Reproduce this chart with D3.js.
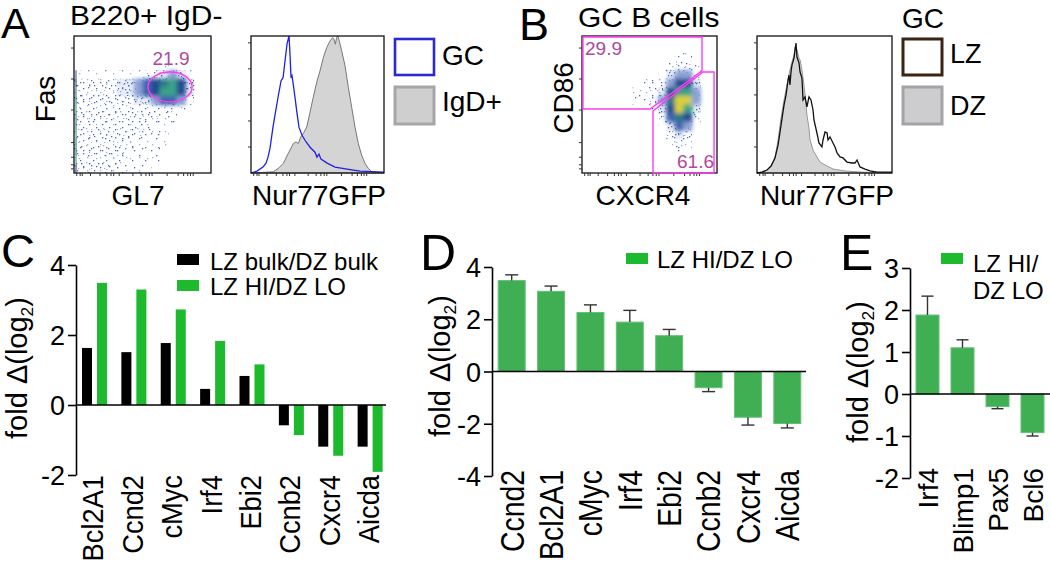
<!DOCTYPE html>
<html><head><meta charset="utf-8">
<script src="https://cdn.jsdelivr.net/npm/d3@7"></script>
<style>
body{margin:0;background:#fff;}
svg{display:block;}
</style></head><body>
<svg id="fig" width="1050" height="566"></svg>
<script>
// ================= DATA =================
// Panel A: GC vs IgD+ Nur77GFP histograms  [channel 0-1000, % of max]
const histA_GC = [[0,0],[45,1.4],[90,4.3],[113,7.2],[128,11.6],[143,18.1],[165,33.3],[180,42.0],[203,55.1],[226,67.4],[241,69.6],[256,81.9],[271,94.2],[286,100],[293,87.0],[301,69.6],[308,71.0],[316,65.9],[331,55.1],[346,43.5],[361,33.3],[384,27.5],[406,23.9],[444,18.8],[481,15.2],[496,11.6],[511,13.8],[526,10.1],[572,7.2],[632,4.3],[722,2.9],[820,1.4],[1000,0.7]];
const histA_IgD = [[0,0],[168,0.9],[205,3.4],[243,7.0],[280,14.3],[306,19.1],[318,21.5],[338,22.7],[356,21.5],[374,26.3],[393,28.8],[419,33.5],[444,44.4],[468,55.3],[494,66.2],[519,74.6],[544,84.3],[569,91.5],[594,96.4],[614,98.8],[624,97.6],[634,94.0],[644,98.8],[654,100],[664,96.4],[682,89.1],[707,78.3],[732,62.5],[757,48.0],[782,33.5],[807,21.5],[832,13.0],[857,7.0],[882,3.4],[908,0.9],[932,0.5],[1000,0]];
// Panel B: LZ vs DZ Nur77GFP histograms
const histB_LZ = [[0,0],[37,0.7],[74,2.2],[104,5.1],[133,10.9],[156,20.4],[178,35.0],[200,49.6],[215,56.9],[230,67.9],[237,71.5],[244,64.2],[252,73.7],[259,78.8],[274,83.9],[289,94.9],[296,84.7],[311,80.3],[319,73.7],[333,69.3],[341,53.3],[356,55.5],[370,48.2],[385,55.5],[400,53.3],[415,46.0],[422,38.7],[444,29.2],[459,21.9],[481,19.0],[489,24.1],[504,29.9],[519,29.2],[526,24.1],[541,26.3],[563,21.9],[578,19.0],[593,14.6],[615,11.7],[637,11.0],[667,8.0],[704,7.3],[726,7.3],[741,9.5],[763,4.4],[800,2.9],[837,1.5],[889,0.7],[1000,0.7]];
const histB_DZ = [[0,0],[37,0.7],[74,2.2],[104,5.1],[133,10.9],[156,24.1],[178,40.1],[200,53.3],[222,64.2],[244,75.2],[259,81.0],[274,86.1],[281,92.0],[296,89.8],[311,83.9],[319,82.5],[333,75.2],[348,64.2],[356,56.9],[370,42.3],[385,32.8],[393,24.1],[415,16.8],[444,11.7],[467,8.0],[519,5.1],[563,2.9],[652,1.5],[763,0.7],[1000,0]];
const histTicksY = [19,38,57,76,95];
const logMinorTicks = [20,45,60,120,190,240,270,290,330,430,490,525,550,570,680,760,800,830,850,870];

// Dot-plot density (16x16 grid, top row first, levels 0-9), axes 0-1000
const densA = [
 "0000000000000000","0000000000000000","0000000000000000","0000000000100000",
 "1111111122343100","2222233456786300","2222233456886300","2222222334554100",
 "2222222222221000","2222222222110000","2222222221110000","2222222211100000",
 "2222222111100000","2222221111000000","2222221111000000","2222211110000000"];
const pileA = [0,0,0,0,5,6,7,7,8,7,7,8,7,7,8,6];   // axis pile-up on left edge of A dot plot
const densB = [
 "0000000000000000","0000000000000000","0000000000011000","0000000000122100",
 "0000000001344200","0000000112466300","0000001123688400","0000001124799400",
 "0000000013698300","0000000002576200","0000000001354100","0000000000232000",
 "0000000000121000","0000000000010000","0000000000000000","0000000000000000"];
const dotTicksY = [30,60,115,222,460,686,912];
const gateA = {cx:701, cy:628, rx:161, ry:109, pct:"21.9"};
const gateB_LZ = [[7,993],[889,993],[889,745],[504,467],[7,467]];
const gateB_DZ = [[526,453],[896,737],[978,737],[978,0],[526,0]];
const pctB = ["29.9","61.6"];

// Panel C
const genesC = ["Bcl2A1","Ccnd2","cMyc","Irf4","Ebi2","Ccnb2","Cxcr4","Aicda"];
const seriesC = ["LZ bulk/DZ bulk","LZ HI/DZ LO"];
const bulkC = [1.63,1.51,1.77,0.46,0.83,-0.58,-1.19,-1.19];
const hiloC = [3.49,3.30,2.73,1.83,1.16,-0.86,-1.45,-1.91];
const ticksC = [-2,0,2,4];
// Panel D
const genesD = ["Ccnd2","Bcl2A1","cMyc","Irf4","Ebi2","Ccnb2","Cxcr4","Aicda"];
const meanD = [3.48,3.07,2.26,1.89,1.37,-0.62,-1.75,-1.99];
const semD = [0.22,0.20,0.29,0.45,0.24,0.15,0.30,0.17];
const ticksD = [-4,-2,0,2,4];
// Panel E
const genesE = ["Irf4","Blimp1","Pax5","Bcl6"];
const meanE = [1.88,1.10,-0.30,-0.92];
const semE = [0.45,0.19,0.05,0.08];
const ticksE = [-2,-1,0,1,2,3];

// ================= DRAWING =================
const F = "'Liberation Sans', Arial, Helvetica, sans-serif";
const svg = d3.select("#fig");
const defs = svg.append("defs");
defs.append("filter").attr("id","soft").attr("x","-10%").attr("y","-10%").attr("width","120%").attr("height","120%")
  .append("feGaussianBlur").attr("stdDeviation",2.0);

// speckle textures for sparse dot-plot regions (style only; two tile sizes to break up repetition)
const speck17 = [[3,2],[11,5],[6,12],[15,14],[1,9],[9,0],[13,10],[4,16],[8,7],[16,3],[0,14],[12,15],
                 [6,4],[10,11],[2,6],[14,1],[7,15],[11,8],[5,9],[15,7],[3,12],[9,3],[13,13],[1,1]];
const speck13 = [[2,4],[9,1],[5,10],[11,7],[0,12],[7,5],[12,11],[3,0],[10,4],[6,8],[1,7],[8,12],[4,3],[11,1]];
const cnt17 = [0,4,8,14], cnt13 = [0,2,5,9];
function makePattern(id, size, pts, n, bg) {
  const p = defs.append("pattern").attr("id",id).attr("patternUnits","userSpaceOnUse").attr("width",size).attr("height",size);
  if (bg) p.append("rect").attr("width",size).attr("height",size).attr("fill",bg);
  pts.slice(0,n).forEach((d,i)=>p.append("rect").attr("x",d[0]).attr("y",d[1]).attr("width",1.3).attr("height",1.3)
    .attr("fill",i%3===1?"#9ab0e0":"#4a6abb"));
}
[1,2,3].forEach(l=>{
  makePattern("spA"+l,17,speck17,cnt17[l], l===3?"#e8edf7":null);
  makePattern("spB"+l,13,speck13,cnt13[l], null);
});

function label(x, y, s, size, anchor="start", fill="#000", rot=false) {
  const t = svg.append("text").attr("font-family",F).attr("font-size",size)
    .attr("fill",fill).attr("text-anchor",anchor).text(s);
  if (rot) t.attr("transform",`translate(${x},${y}) rotate(-90)`);
  else t.attr("x",x).attr("y",y);
  return t;
}
function squeeze(sel, f) {
  sel.each(function(){ const L=this.getComputedTextLength();
    d3.select(this).attr("textLength",L*f).attr("lengthAdjust","spacingAndGlyphs"); });
}

// panel letters & titles
label(1,38,"A",43);
label(519,40,"B",45);
label(1,267,"C",47);
label(420,270,"D",50);
label(840,270,"E",50);
squeeze(label(70,25,"B220+ IgD-",28),1.07);
squeeze(label(578,27,"GC B cells",28),1.07);

const denseCol = d3.scaleOrdinal().domain(d3.range(4,10))
  .range(["#8aa2d6","#3f63ad","#24488f","#2a7a8a","#38a386","#dccf3a"]);

function dotPlot(id, x0, x1, y0, y1, dens) {
  const sx = d3.scaleLinear().domain([0,1000]).range([x0,x1]);
  const sy = d3.scaleLinear().domain([0,1000]).range([y1,y0]);
  defs.append("clipPath").attr("id",id).append("rect").attr("x",x0).attr("y",y0).attr("width",x1-x0).attr("height",y1-y0);
  const root = svg.append("g").attr("clip-path",`url(#${id})`);
  const gSparse = root.append("g");
  const gDense = root.append("g").attr("filter","url(#soft)");
  const n = dens.length, step = 1000/n;
  dens.forEach((row,r)=>{
    row.split("").forEach((ch,c)=>{
      const v = +ch; if(!v) return;
      const x = sx(c*step), y = sy(1000-r*step);
      const w = sx((c+1)*step)-x, h = sy(1000-(r+1)*step)-y;
      ["spA","spB"].forEach(p=>gSparse.append("rect").attr("x",x).attr("y",y).attr("width",w+0.3).attr("height",h+0.3)
        .attr("fill",`url(#${p}${Math.min(v,3)})`));
      if (v>=4) gDense.append("rect").attr("x",x).attr("y",y).attr("width",w+0.5).attr("height",h+0.5)
        .attr("fill",denseCol(v));
    });
  });
  return {sx,sy};
}
function frame(x0,x1,y0,y1, sx, sy, yt) {
  svg.append("rect").attr("x",x0).attr("y",y0).attr("width",x1-x0).attr("height",y1-y0)
    .attr("fill","none").attr("stroke","#111").attr("stroke-width",1.3);
  svg.append("g").selectAll("line").data(logMinorTicks).join("line")
    .attr("x1",d=>sx(d)).attr("x2",d=>sx(d)).attr("y1",y1).attr("y2",y1+3)
    .attr("stroke","#333").attr("stroke-width",1);
  svg.append("g").selectAll("line").data(yt).join("line")
    .attr("y1",d=>sy(d)).attr("y2",d=>sy(d)).attr("x1",x0-3).attr("x2",x0)
    .attr("stroke","#333").attr("stroke-width",1);
}

// ---- A dot plot ----
const dA = dotPlot("clipA",74,211,36,173,densA);
svg.append("g").selectAll("rect").data(pileA).join("rect")
  .attr("x",75).attr("width",2)
  .attr("y",(d,i)=>dA.sy(1000-i*62.5)).attr("height",dA.sy(0)-dA.sy(62.5))
  .attr("fill",d=>d?denseCol(d):"none").attr("opacity",0.55);
frame(74,211,36,173,dA.sx,dA.sy,dotTicksY);
svg.append("ellipse").attr("cx",dA.sx(gateA.cx)).attr("cy",dA.sy(gateA.cy))
  .attr("rx",dA.sx(gateA.rx)-dA.sx(0)).attr("ry",dA.sy(0)-dA.sy(gateA.ry))
  .attr("fill","none").attr("stroke","#ff3cf0").attr("stroke-width",1.4);
label(dA.sx(gateA.cx)+1,65,gateA.pct,19,"middle","#b0489c");
label(55,99,"Fas",28,"middle","#000",true);
label(138,205,"GL7",28,"middle");

// ---- histograms ----
function histo(x0,x1,y0,y1){
  return {sx:d3.scaleLinear().domain([0,1000]).range([x0,x1]),
          sy:d3.scaleLinear().domain([0,100]).range([y1,y0])};
}
const hA = histo(251,384,36,173);
const area = s => d3.area().x(d=>s.sx(d[0])).y0(s.sy(0)).y1(d=>s.sy(d[1]));
const line = s => d3.line().x(d=>s.sx(d[0])).y(d=>s.sy(d[1]));
svg.append("path").datum(histA_IgD).attr("d",area(hA)).attr("fill","#d4d4d4").attr("stroke","#777").attr("stroke-width",1);
svg.append("path").datum(histA_GC).attr("d",line(hA)).attr("fill","none").attr("stroke","#1f1fe6").attr("stroke-width",1.3);
frame(251,384,36,173,hA.sx,hA.sy,histTicksY);
squeeze(label(319,205,"Nur77GFP",27,"middle"),1.04);
// legend A
svg.append("rect").attr("x",395).attr("y",39).attr("width",39).attr("height",36).attr("fill","#fff").attr("stroke","#2a2ad0").attr("stroke-width",2.6);
svg.append("rect").attr("x",395).attr("y",87).attr("width",39).attr("height",37).attr("fill","#cfcfcf").attr("stroke","#a6a6a6").attr("stroke-width",3);
label(442,65,"GC",28);
label(442,111,"IgD+",28);

// ---- B dot plot ----
const dB = dotPlot("clipB",582,717,36,173,densB);
frame(582,717,36,173,dB.sx,dB.sy,dotTicksY);
const gl = d3.line().x(d=>dB.sx(d[0])).y(d=>dB.sy(d[1])).curve(d3.curveLinearClosed);
svg.append("path").datum(gateB_LZ).attr("d",gl).attr("fill","none").attr("stroke","#ff3cf0").attr("stroke-width",1.4);
svg.append("path").datum(gateB_DZ).attr("d",gl).attr("fill","none").attr("stroke","#ff3cf0").attr("stroke-width",1.4);
label(585,55,pctB[0],19,"start","#b0489c");
label(714,168,pctB[1],19,"end","#b0489c");
label(573,98,"CD86",28,"middle","#000",true);
label(643,205,"CXCR4",28,"middle");

// ---- B histogram ----
const hB = histo(757,892,36,173);
svg.append("path").datum(histB_DZ).attr("d",area(hB)).attr("fill","#d4d4d4").attr("stroke","#999").attr("stroke-width",1);
svg.append("path").datum(histB_LZ).attr("d",line(hB)).attr("fill","none").attr("stroke","#111").attr("stroke-width",1.3);
frame(757,892,36,173,hB.sx,hB.sy,histTicksY);
squeeze(label(827,205,"Nur77GFP",27,"middle"),1.04);
label(902,28,"GC",28);
svg.append("rect").attr("x",903).attr("y",39).attr("width",39).attr("height",36).attr("fill","#fff").attr("stroke","#3a2414").attr("stroke-width",3);
svg.append("rect").attr("x",903).attr("y",87).attr("width",39).attr("height",37).attr("fill","#cdcdd0").attr("stroke","#a4a4a6").attr("stroke-width",3);
label(950,63,"LZ",27);
label(950,115,"DZ",27);

// ---- bar chart helpers ----
function yAxis(y, x0, ticks, size) {
  const ax = d3.axisLeft(y).tickValues(ticks).tickSize(8).tickSizeOuter(0).tickPadding(3).tickFormat(d=>String(d));
  const a = svg.append("g").attr("transform",`translate(${x0},0)`).call(ax);
  a.select(".domain").attr("stroke","#000").attr("stroke-width",1.6);
  a.selectAll(".tick line").attr("stroke","#000").attr("stroke-width",1.6);
  a.selectAll(".tick text").attr("font-size",size).attr("fill","#000").attr("font-family",F).attr("dy","0.36em");
}
function foldLabel(x, y, size) {
  const t = svg.append("text").attr("transform",`translate(${x},${y}) rotate(-90)`)
    .attr("text-anchor","middle").attr("font-family",F).attr("font-size",size);
  t.append("tspan").text("fold \u0394(log");
  t.append("tspan").attr("font-size",size*0.6).attr("dy",size*0.22).text("2");
  t.append("tspan").attr("dy",-size*0.22).text(")");
}
function xLabels(genes, xc, yTop, size, f) {
  const t = svg.append("g").selectAll("text").data(genes).join("text")
    .attr("transform",d=>`translate(${xc(d)},${yTop}) rotate(-90)`)
    .attr("text-anchor","end").attr("dy","0.36em")
    .attr("font-family",F).attr("font-size",size).text(d=>d);
  squeeze(t,f);
}
function zeroLine(y, x0, x1){
  svg.append("line").attr("x1",x0).attr("x2",x1).attr("y1",y(0)).attr("y2",y(0)).attr("stroke","#000").attr("stroke-width",1.6);
}
function errBars(genes, x, y, mean, sem, cap) {
  const g = svg.append("g").attr("stroke","#333").attr("stroke-width",1.4);
  genes.forEach((d,i)=>{
    const cx = x(d)+x.bandwidth()/2, m = mean[i], e = m>=0 ? m+sem[i] : m-sem[i];
    g.append("line").attr("x1",cx).attr("x2",cx).attr("y1",y(m)).attr("y2",y(e));
    g.append("line").attr("x1",cx-cap/2).attr("x2",cx+cap/2).attr("y1",y(e)).attr("y2",y(e));
  });
}

// ---- C ----
const yC = d3.scaleLinear().domain([-2,4]).range([475,265]);
const xC = d3.scaleBand().domain(genesC).range([76,391]);
const xCin = d3.scaleBand().domain(seriesC).range([6,31]).paddingInner(1/3);
const colC = d3.scaleOrdinal().domain(seriesC).range(["#000000","#1cba2c"]);
const valsC = [bulkC, hiloC];
seriesC.forEach((s,si)=>{
  svg.append("g").selectAll("rect").data(genesC).join("rect")
    .attr("x",d=>xC(d)+xCin(s)).attr("width",xCin.bandwidth())
    .attr("y",(d,i)=>yC(Math.max(0,valsC[si][i])))
    .attr("height",(d,i)=>Math.abs(yC(valsC[si][i])-yC(0)))
    .attr("fill",colC(s));
});
zeroLine(yC,76,386);
yAxis(yC,76,ticksC,27);
foldLabel(27,368,29);
xLabels(genesC,d=>xC(d)+17,475,29,0.94);
seriesC.forEach((s,i)=>{
  svg.append("rect").attr("x",177).attr("y",254+i*26).attr("width",22).attr("height",11).attr("fill",colC(s));
  label(210,270+i*25,s,24);
});

// ---- D ----
const yD = d3.scaleLinear().domain([-4,4]).range([476,267]);
const xD = d3.scaleBand().domain(genesD).range([492,807]).paddingInner(0.315).paddingOuter(0.1575);
svg.append("g").selectAll("rect").data(genesD).join("rect")
  .attr("x",d=>xD(d)).attr("width",xD.bandwidth())
  .attr("y",(d,i)=>yD(Math.max(0,meanD[i]))).attr("height",(d,i)=>Math.abs(yD(meanD[i])-yD(0)))
  .attr("fill","#40ae53").attr("stroke","#62c173").attr("stroke-width",1);
errBars(genesD,xD,yD,meanD,semD,13);
zeroLine(yD,492,806);
yAxis(yD,492,ticksD,27);
foldLabel(450,366,29);
xLabels(genesD,d=>xD(d)+xD.bandwidth()/2,470,33,0.86);
svg.append("rect").attr("x",626).attr("y",253).attr("width",22).attr("height",11).attr("fill","#1cba2c");
label(657,268,"LZ HI/DZ LO",24);

// ---- E ----
const yE = d3.scaleLinear().domain([-2,3]).range([478,268]);
const xE = d3.scaleBand().domain(genesE).range([910,1050]).paddingInner(0.343).paddingOuter(0.1715);
svg.append("g").selectAll("rect").data(genesE).join("rect")
  .attr("x",d=>xE(d)).attr("width",xE.bandwidth())
  .attr("y",(d,i)=>yE(Math.max(0,meanE[i]))).attr("height",(d,i)=>Math.abs(yE(meanE[i])-yE(0)))
  .attr("fill","#40ae53").attr("stroke","#62c173").attr("stroke-width",1);
errBars(genesE,xE,yE,meanE,semE,12);
zeroLine(yE,910,1050);
yAxis(yE,910,ticksE,27);
foldLabel(868,372,29);
xLabels(genesE,d=>xE(d)+xE.bandwidth()/2,468,28,1.0);
svg.append("rect").attr("x",941).attr("y",253).attr("width",22).attr("height",11).attr("fill","#1cba2c");
label(973,272,"LZ HI/",24);
label(973,299,"DZ LO",24);
</script>
</body></html>
